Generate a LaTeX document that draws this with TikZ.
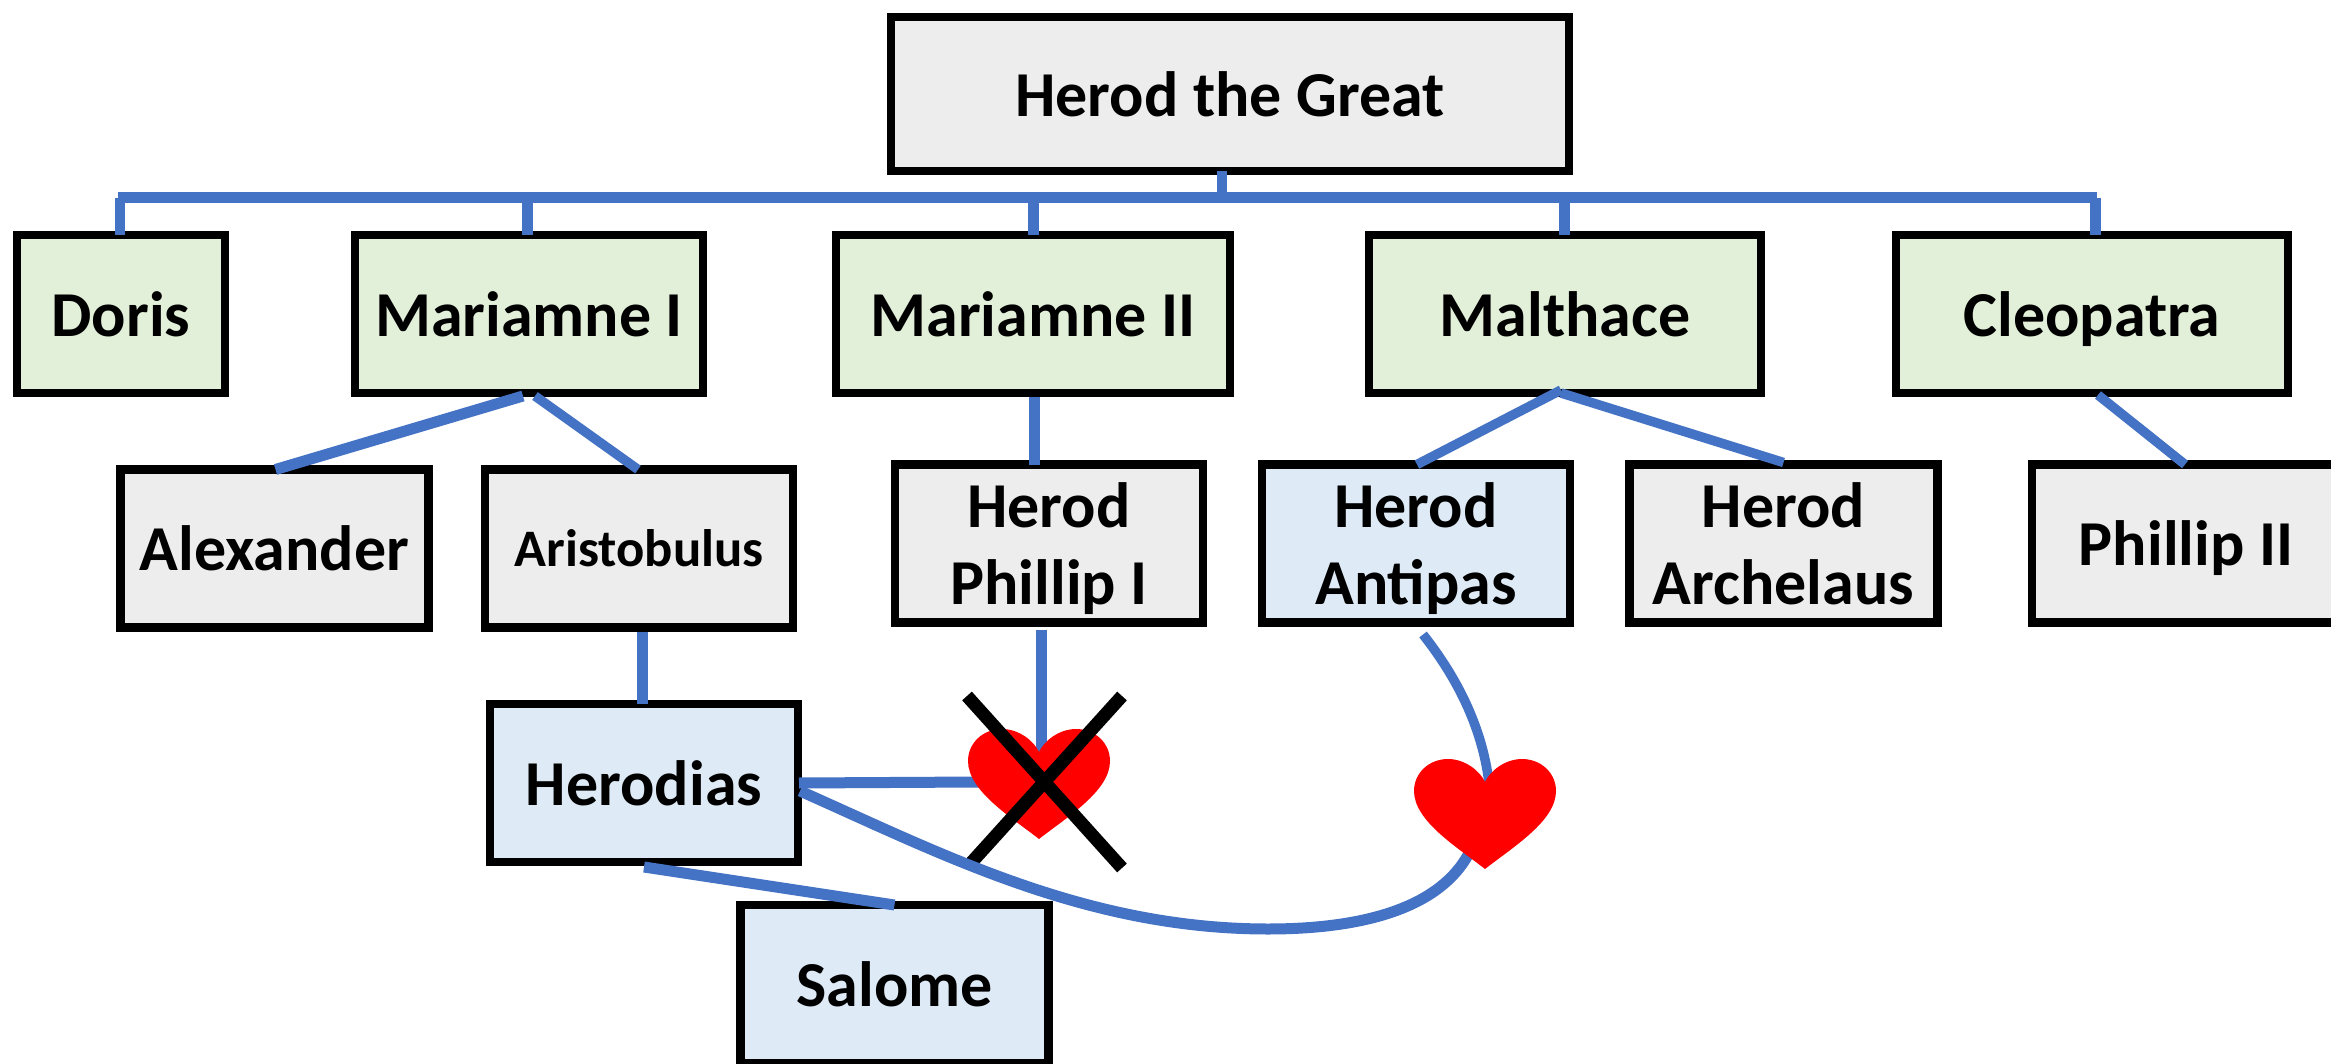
\documentclass[tikz,border=0pt]{standalone}
\usepackage{fontspec}
\setmainfont{Carlito}
\usetikzlibrary{calc}
\definecolor{linkblue}{HTML}{4472C4}
\definecolor{greybox}{HTML}{EDEDED}
\definecolor{greenbox}{HTML}{E2F0D9}
\definecolor{bluebox}{HTML}{DEEBF7}
\tikzset{
  base/.style={draw=black,line width=8.2pt,inner sep=0pt,outer sep=0pt,align=center,font=\fontsize{64}{77}\selectfont\bfseries},
  greyn/.style={base,fill=greybox},
  greenn/.style={base,fill=greenbox},
  bluen/.style={base,fill=bluebox},
  link/.style={draw=linkblue,line width=11pt},
  thinlink/.style={draw=linkblue,line width=9.5pt},
  cross/.style={draw=black,line width=13pt},
  heartshape/.style={fill=red},
}
\newcommand{\nodrop}[1]{\raisebox{0pt}[\height][0pt]{#1}}
\newcommand{\heartat}[1]{\fill[heartshape,shift={(#1)}] (0,110) .. controls (-28,88) and (-71,62) .. (-71,32) .. controls (-71,14) and (-56,0) .. (-37,0) .. controls (-20,0) and (-5,12) .. (0,23) .. controls (5,12) and (20,0) .. (37,0) .. controls (56,0) and (71,14) .. (71,32) .. controls (71,62) and (28,88) .. (0,110) -- cycle;}
\begin{document}
\begin{tikzpicture}[x=1pt,y=-1pt]
\useasboundingbox (0,0) rectangle (2331,1064);
\clip (0,0) rectangle (2331,1064);
\fill[white] (0,0) rectangle (2331,1064);
% top
\node[greyn,minimum width=678pt,minimum height=154pt] (herod) at (1230,94) {Herod the Great};
% wives
\node[greenn,minimum width=208pt,minimum height=158pt] (doris) at (121,314) {Doris};
\node[greenn,minimum width=348pt,minimum height=158pt] (mar1) at (529,314) {Mariamne I};
\node[greenn,minimum width=394pt,minimum height=158pt] (mar2) at (1033,314) {Mariamne II};
\node[greenn,minimum width=392pt,minimum height=158pt] (malt) at (1565,314) {Malthace};
\node[greenn,minimum width=392pt,minimum height=158pt] (cleo) at (2092,314) {\nodrop{Cleopatra}};
% children
\node[greyn,minimum width=308pt,minimum height=158pt] (alex) at (274.5,548.5) {Alexander};
\node[greyn,minimum width=308pt,minimum height=158pt,font=\fontsize{52.7}{60}\selectfont\bfseries] (arist) at (639,548.5) {Aristobulus};
\node[greyn,minimum width=308pt,minimum height=158pt] (phil1) at (1049,543.5) {Herod\\\nodrop{Phillip I}};
\node[bluen,minimum width=308pt,minimum height=158pt] (antipas) at (1416,543.5) {Herod\\\nodrop{Antipas}};
\node[greyn,minimum width=308pt,minimum height=158pt] (arch) at (1783.5,543.5) {Herod\\Archelaus};
\node[greyn,minimum width=308pt,minimum height=158pt] (phil2) at (2186,543.5) {\nodrop{Phillip II}};
\node[bluen,minimum width=308pt,minimum height=158pt] (herodias) at (644,783) {Herodias};
\node[bluen,minimum width=308pt,minimum height=158pt] (salome) at (894.5,984) {Salome};
% anchors for free ends
\coordinate (busL) at (118,198);
\coordinate (busR) at (2097,198);
\coordinate (h1) at (1039,729);
\coordinate (h2) at (1485,759);
% bus
\draw[link] (busL) -- (busR);
\draw[thinlink] ([xshift=-8pt]herod.south) -- ([xshift=-8pt]herod.south |- busL);
\draw[thinlink] ([xshift=-1pt]doris.north |- busL) -- ([xshift=-1pt]doris.north);
\draw[link] ([xshift=-2pt]mar1.north |- busL) -- ([xshift=-2pt]mar1.north);
\draw[link] (mar2.north |- busL) -- (mar2.north);
\draw[link] ([xshift=-1pt]malt.north |- busL) -- ([xshift=-1pt]malt.north);
\draw[link] ([xshift=3pt]cleo.north |- busL) -- ([xshift=3pt]cleo.north);
% children links
\draw[link] ([xshift=-6pt,yshift=-3pt]mar1.south) -- ([xshift=1pt]alex.north);
\draw[thinlink] ([xshift=6pt,yshift=-3pt]mar1.south) -- ([xshift=-1pt]arist.north);
\draw[link] ([xshift=1pt,yshift=-4pt]mar2.south) -- ([xshift=-15pt]phil1.north);
\draw[thinlink] ([xshift=-4pt,yshift=3pt]malt.south) -- ([xshift=1pt]antipas.north);
\draw[thinlink] ([xshift=-4pt,yshift=0pt]malt.south) -- ([yshift=2pt]arch.north);
\draw[thinlink] ([xshift=6pt,yshift=-2pt]cleo.south) -- ([xshift=-1pt]phil2.north);
\draw[link] ([xshift=3pt,yshift=-4pt]arist.south) -- ([xshift=-2pt]herodias.north);
\draw[link] ([yshift=-5pt]herodias.south) -- (salome.north);
% first heart and its links
\draw[link] ([xshift=-8pt,yshift=-7pt]phil1.south) -- ($(h1)+(2,30)$);
\draw[link] ([xshift=1pt]herodias.east) -- ($(h1)+(-60,53)$);
\heartat{h1}
\draw[cross] ($(h1)+(-72,-33)$) -- ($(h1)+(83,139)$);
\draw[cross] ($(h1)+(83,-33)$) -- ($(h1)+(-68,134)$);
% second heart and its links
\draw[thinlink] ([xshift=7pt,yshift=-12pt]antipas.south) .. controls (1455,675) and (1482,725) .. ($(h2)+(4,24)$);
\draw[link] ([xshift=2pt,yshift=-8pt]herodias.east) .. controls (940,853) and (1085,929) .. (1268,929) .. controls (1370,929) and (1440,905) .. ($(h2)+(-17,96)$);
\heartat{h2}
\end{tikzpicture}
\end{document}
